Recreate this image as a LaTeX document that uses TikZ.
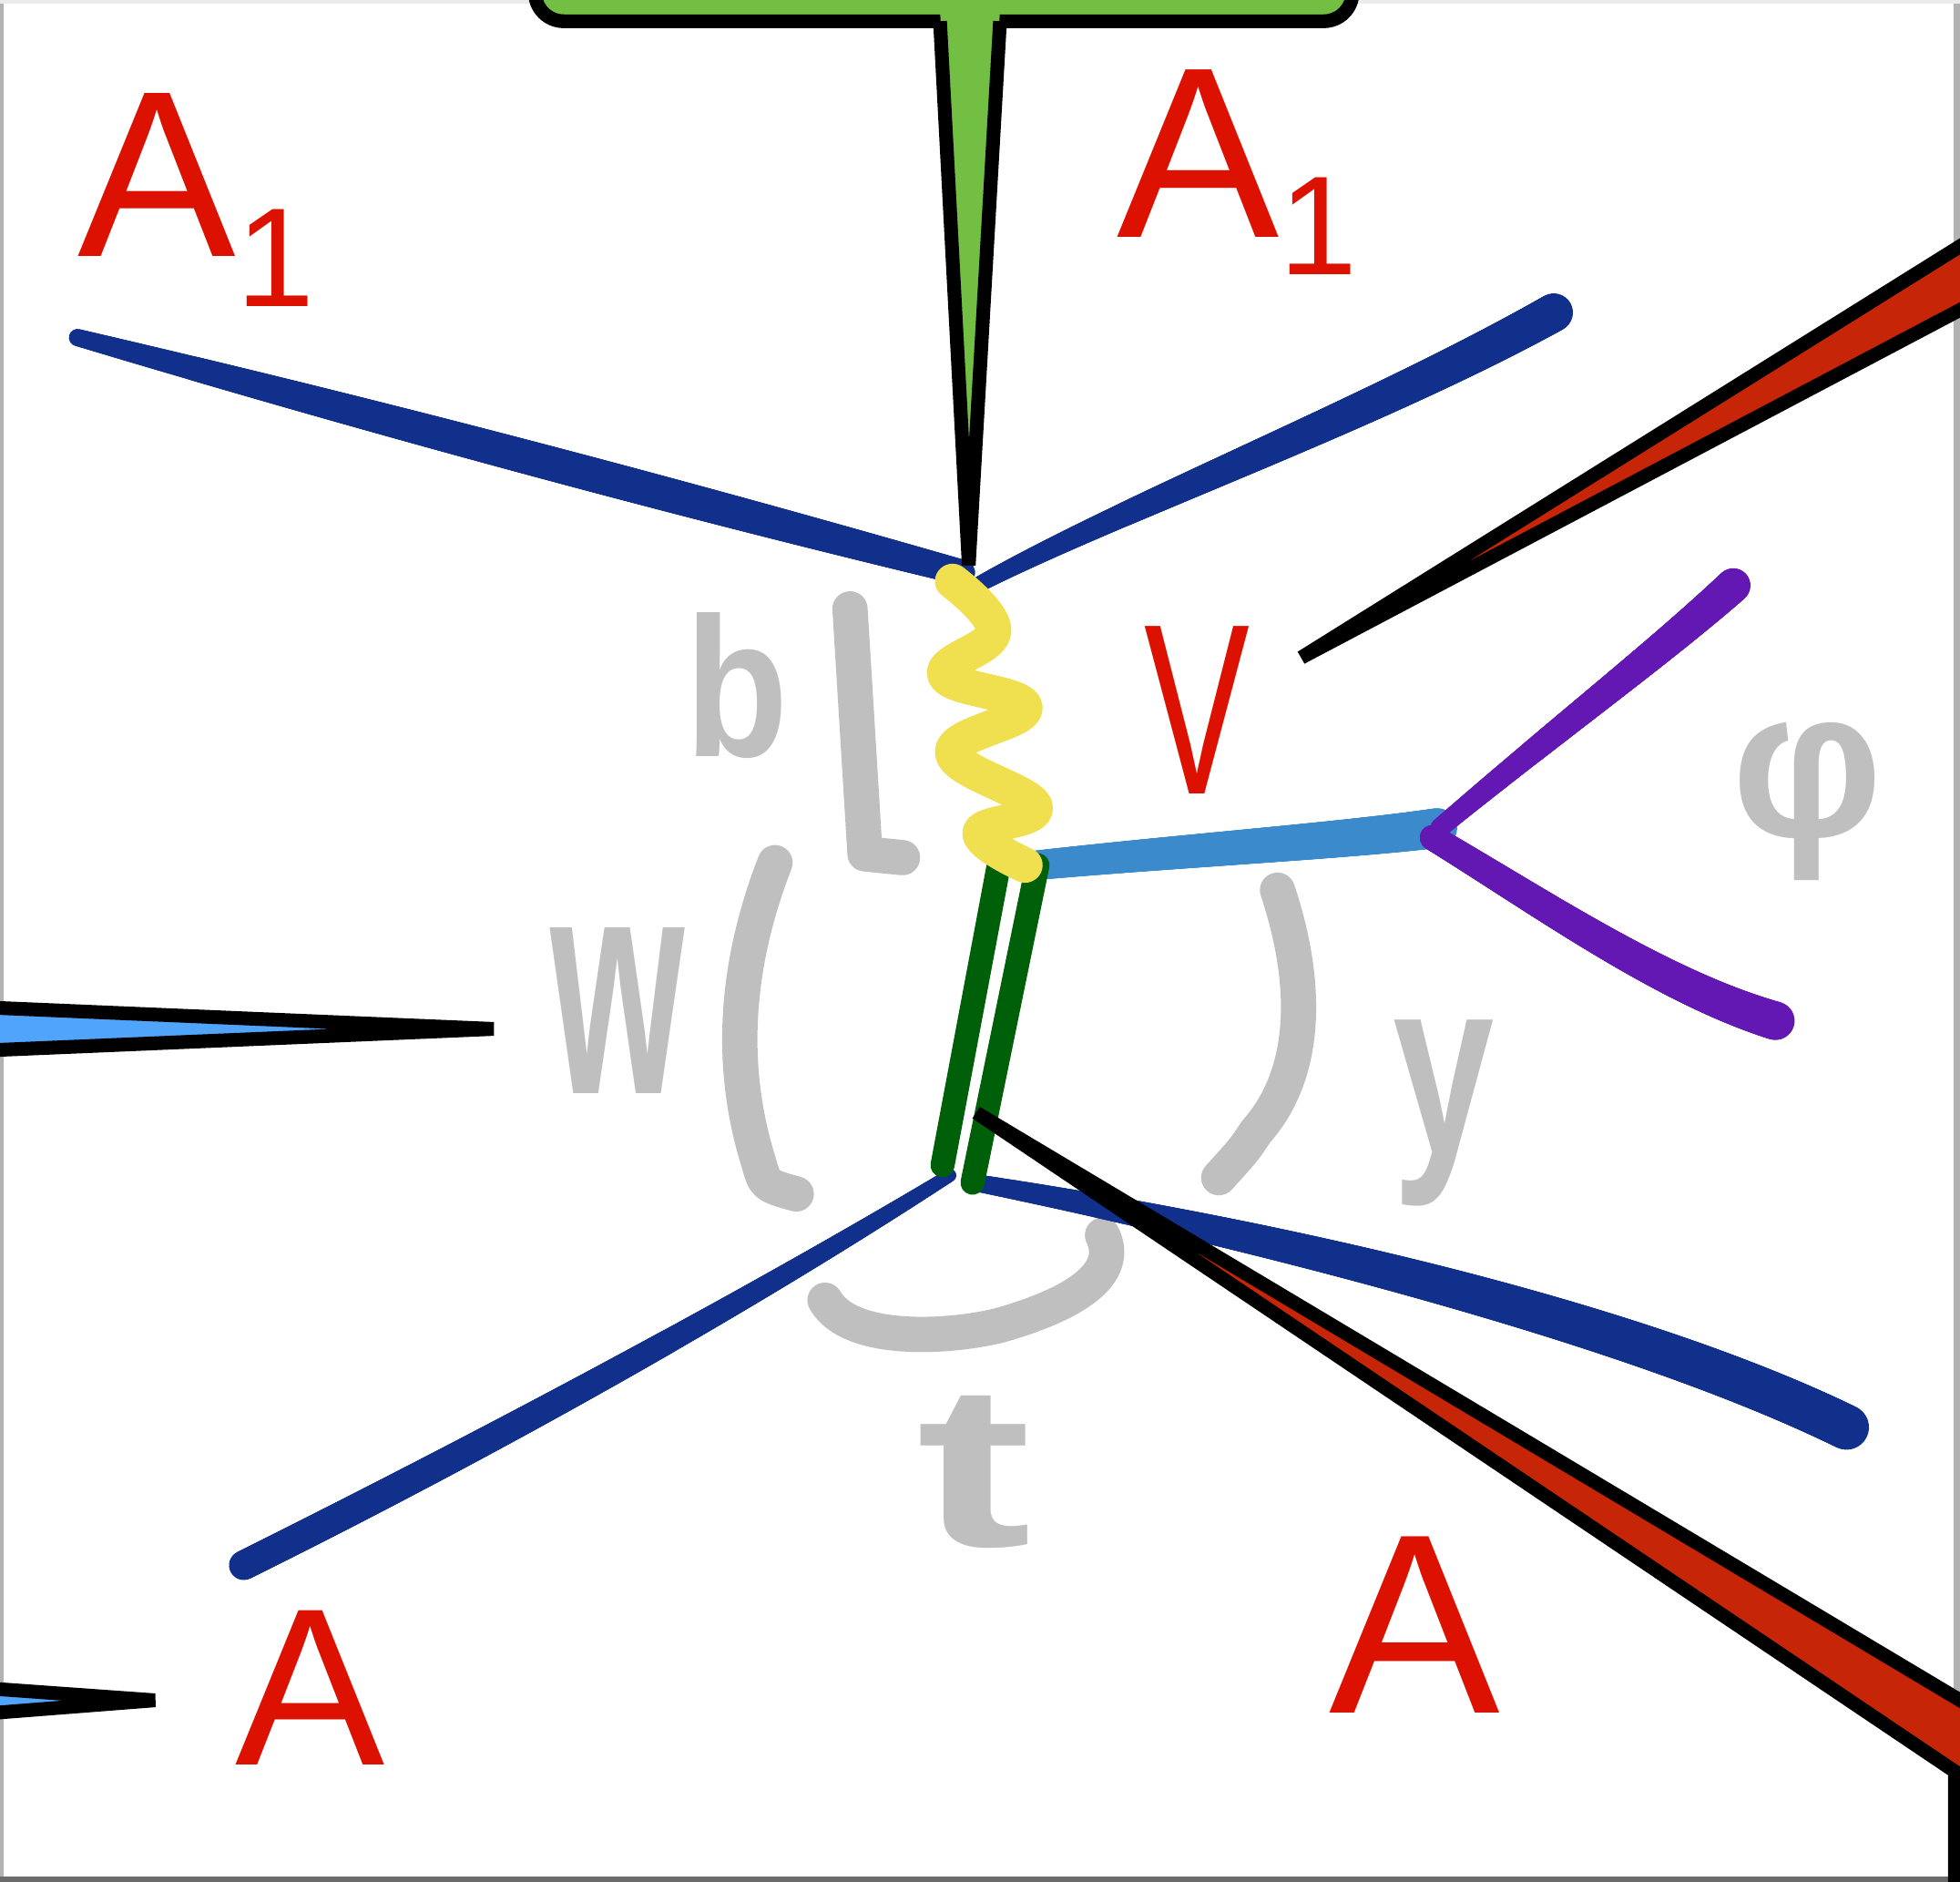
\documentclass[tikz,border=0pt]{standalone}
\usepackage{fontspec}
\usepackage{graphicx}
\setmainfont{Liberation Sans}
\usetikzlibrary{decorations.markings}

\definecolor{navy}{HTML}{10308C}
\definecolor{skyline}{HTML}{3A8ACC}
\definecolor{violet}{HTML}{6318B3}
\definecolor{gluonyellow}{HTML}{F0E050}
\definecolor{pairgreen}{HTML}{00600A}
\definecolor{handred}{HTML}{DD1100}
\definecolor{pencil}{HTML}{BFBFBF}
\definecolor{leafgreen}{HTML}{72BF44}
\definecolor{wedgered}{HTML}{C62508}
\definecolor{wedgeblue}{HTML}{50A5FA}

\begin{document}
\begin{tikzpicture}[x=0.013724cm, y=-0.013724cm,
    redlbl/.style={text=handred, inner sep=0, anchor=base west},
    graylbl/.style={text=pencil, inner sep=0, anchor=base west, font=\bfseries},
    pencil line/.style={draw=pencil, line width=11pt, line cap=round, line join=round},
    callout/.style={draw=black, line width=4.3pt, line join=miter},
    gluon/.style={draw=gluonyellow, line width=11pt, line cap=round, line join=round},
    pairline/.style={draw=pairgreen, line width=7.5pt, line cap=round},
    % colour, start radius, end radius, bulge (pt)
    taper/.style n args={4}{postaction={decorate, decoration={markings,
      mark=between positions 0 and 1 step 0.5pt with {
        \pgfmathsetmacro\tpos{\pgfkeysvalueof{/pgf/decoration/mark info/distance from start}/\pgfdecoratedpathlength}
        \pgfmathsetmacro\trad{#2+(#3-#2)*\tpos+4*#4*\tpos*(1-\tpos)}
        \fill[#1] (0,0) circle[radius=\trad pt];}}}}]

\useasboundingbox (0,0) rectangle (1568,1505);
\clip (0,0) rectangle (1568,1505);

% page and its shadow
\fill[black!30] (0,0) rectangle (1568,1505);
\fill[black!8] (0,0) rectangle (1568,3);
\fill[black!58] (0,1501) rectangle (1568,1505);
\fill[white] (3,3) rectangle (1563,1501);

% vertices and free ends
\coordinate (vtop) at (770,458);
\coordinate (vtopr) at (784,467);
\coordinate (vmid) at (820,692);
\coordinate (vbot) at (760,940);
\coordinate (vbotr) at (780,946);
\coordinate (vright) at (1152,662);
\coordinate (inl) at (62,270);
\coordinate (inr) at (1243,250);
\coordinate (outl) at (195,1252);
\coordinate (outr) at (1478,1142);
\coordinate (phiup) at (1388,467);
\coordinate (phidown) at (1422,817);
\coordinate (g1top) at (799,692);
\coordinate (g1bot) at (754,932);
\coordinate (g2top) at (830,692);
\coordinate (g2bot) at (778,946);

% pencil marks
\node[graylbl, font=\bfseries\fontsize{62}{62}\selectfont] (blbl) at (548,605) {\scalebox{0.85}[1]{b}};
\node[graylbl, font=\bfseries\fontsize{98}{98}\selectfont] (wlbl) at (440,875) {\scalebox{0.55}[1]{w}};
\node[graylbl, font=\bfseries\fontsize{79}{79}\selectfont] (ylbl) at (1114,923) {\scalebox{0.72}[1]{y}};
\node[graylbl, font=\bfseries\fontsize{72}{72}\selectfont] (tlbl) at (733,1237) {\scalebox{1.5}[1]{t}};
\node[graylbl, font=\bfseries\fontsize{66}{66}\selectfont] (philbl) at (1385,669) {φ};
\draw[pencil line] (680,487) -- (692,683) -- (722,686);
\draw[pencil line] (620,690) .. controls (585,780) and (585,860) .. (607,930) .. controls (612,948) .. (637,955);
\draw[pencil line] (1022,712) .. controls (1048,790) and (1045,860) .. (1005,905) .. controls (995,920) .. (975,942);
\draw[pencil line] (660,1040) .. controls (680,1075) and (760,1070) .. (800,1060) .. controls (870,1040) and (895,1015) .. (882,988);

% lines
\path[taper={navy}{2.7}{3.9}{2.0}] (inl) .. controls (250,320) and (550,400) .. (vtop);
\path[taper={navy}{2.5}{6.0}{0.5}] (vtopr) .. controls (900,405) and (1100,330) .. (inr);
\path[taper={navy}{4.6}{2.0}{0.7}] (outl) .. controls (400,1150) and (600,1040) .. (vbot);
\path[taper={navy}{2.7}{7.0}{1.0}] (vbotr) .. controls (1000,985) and (1300,1055) .. (outr);
\path[taper={skyline}{4.6}{6.2}{0}] (g2top) .. controls (950,680) and (1080,672) .. (vright);
\path[taper={violet}{3.0}{5.4}{0}] (vright) .. controls (1250,580) and (1330,520) .. (phiup);
\path[taper={violet}{4.0}{6.0}{0}] (1146,670) .. controls (1230,720) and (1330,790) .. (phidown);
\draw[pairline] (g1top) -- (g1bot);
\draw[pairline] (g2top) -- (g2bot);
\draw[gluon] plot[smooth, tension=0.7] coordinates {(762,465) (795,505) (756,540) (820,566) (762,602) (828,645) (784,666) (vmid)};

% red labels
\node[redlbl, font=\fontsize{74}{74}\selectfont] (a1left) at (62,205) {A\raisebox{-15.6pt}{\fontsize{44}{44}\selectfont 1}};
\node[redlbl, font=\fontsize{76}{76}\selectfont] (a1right) at (893,190) {A\raisebox{-11.7pt}{\fontsize{44}{44}\selectfont 1}};
\node[redlbl, font=\fontsize{76}{76}\selectfont] (vlbl) at (915,635) {\scalebox{0.65}[1]{V}};
\node[redlbl, font=\fontsize{70}{70}\selectfont] (aleft) at (188,1412) {A};
\node[redlbl, font=\fontsize{80}{80}\selectfont] (aright) at (1063,1370) {A};

% callouts
\draw[callout, fill=leafgreen, rounded corners=9pt] (428,-40) rectangle (1082,17);
\fill[leafgreen] (752,8) -- (775,452) -- (800,8) -- cycle;
\draw[callout] (752,17) -- (775,452) -- (800,17);
\draw[callout, fill=wedgered] (1041,526) -- (1600,177) -- (1600,231) -- cycle;
\draw[callout, fill=wedgered] (781,890) -- (1620,1391) -- (1620,1520) -- (1564,1520) -- (1564,1417) -- cycle;
\draw[callout, fill=wedgeblue] (-30,805) -- (395,823) -- (-30,841) -- cycle;
\draw[callout, fill=wedgeblue] (-30,1349) -- (124,1360) -- (-30,1372) -- cycle;
\end{tikzpicture}
\end{document}
